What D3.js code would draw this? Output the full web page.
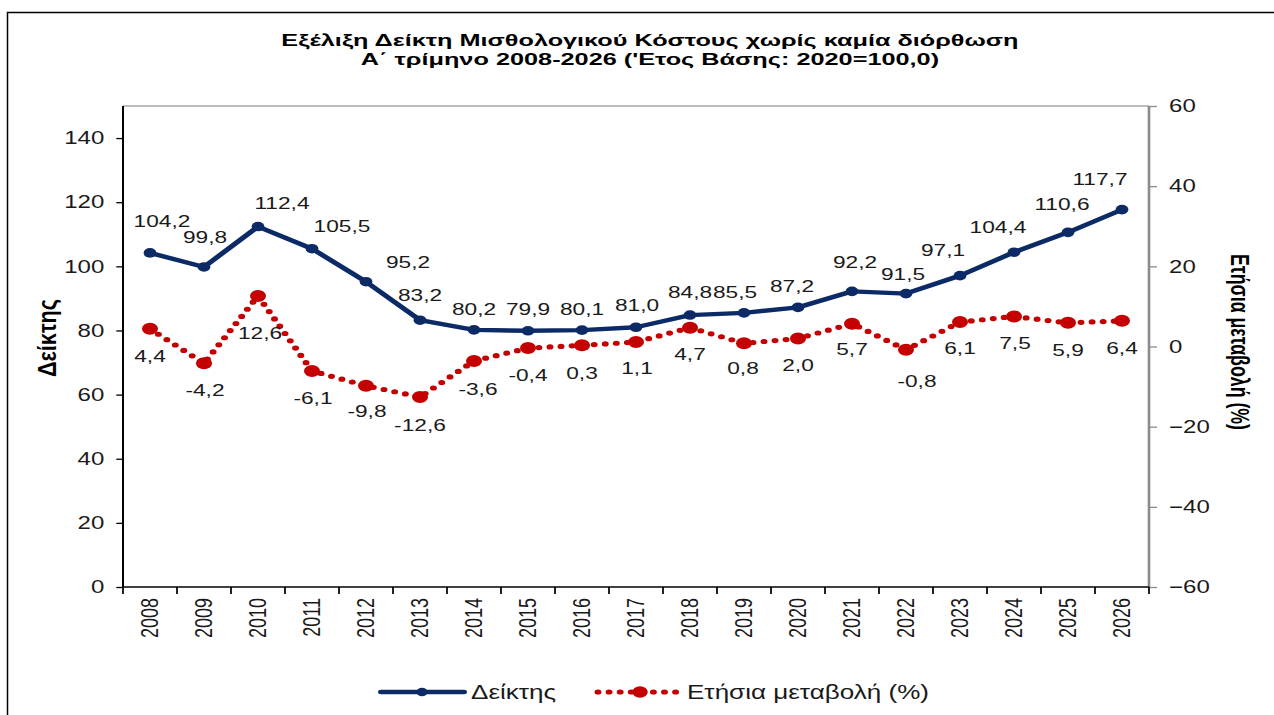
<!DOCTYPE html>
<html><head><meta charset="utf-8">
<script src="https://cdn.jsdelivr.net/npm/d3@7"></script>
<style>
html,body{margin:0;padding:0;background:#fff;}
svg{display:block;font-family:"Liberation Sans",Arial,sans-serif;}
</style></head>
<body><svg id="c" width="1274" height="715"></svg>
<script>
// ---- data ----
const years = ["2008","2009","2010","2011","2012","2013","2014","2015","2016","2017","2018","2019","2020","2021","2022","2023","2024","2025","2026"];
const indexValues = [104.2,99.8,112.4,105.5,95.2,83.2,80.2,79.9,80.1,81.0,84.8,85.5,87.2,92.2,91.5,97.1,104.4,110.6,117.7];
const changeValues = [4.4,-4.2,12.6,-6.1,-9.8,-12.6,-3.6,-0.4,0.3,1.1,4.7,0.8,2.0,5.7,-0.8,6.1,7.5,5.9,6.4];
const leftTicks = [0,20,40,60,80,100,120,140];
const rightTicks = [-60,-40,-20,0,20,40,60];
const titleLines = ["Εξέλιξη Δείκτη Μισθολογικού Κόστους χωρίς καμία διόρθωση","Α΄ τρίμηνο 2008-2026 ('Ετος Βάσης: 2020=100,0)"];
const seriesNames = ["Δείκτης","Ετήσια μεταβολή (%)"];
// label placement offsets (px) relative to points
const idxLabelDx = [12,1,24,30,42,0,0,0,0,1,0,-9,-6,3,-3,-17,-16,-6,-22];
const idxLabelDy = [-32,-30,-24,-23,-20,-25,-21,-22,-21,-22,-23,-21,-21,-29,-20,-26,-25,-28,-31];
const chgLabelDx = [0,1,2,1,1,0,4,0,0,1,0,-1,0,0,11,0,1,0,0];
const chgLabelDy = [27,27,37,27,25,28,28,27,28,26,26,25,27,25,31,26,27,27,27];

const fmt = v => v.toFixed(1).replace(".", ",");
const S = 1274/954; // horizontal stretch of the original picture
const svg = d3.select("#c");

// outer frame
svg.append("rect").attr("x",7.5).attr("y",12.5).attr("width",1300).attr("height",800)
  .attr("fill","none").attr("stroke","#000").attr("stroke-width",1.5);

const g = svg.append("g").attr("transform",`scale(${S},1)`);

const L = 123/S, R = 1149/S, T = 106, B = 587;
const x = d3.scaleBand().domain(years).range([L,R]).padding(0);
const cx = d => x(d) + x.bandwidth()/2;
const yL = d3.scaleLinear().domain([0,150]).range([B,T]);
const yR = d3.scaleLinear().domain([-60,60]).range([B,T]);

const navy = "#0b2a66", red = "#c40000", txt = "#1a1a1a";

// title
titleLines.forEach((t,i)=>{
  g.append("text").attr("x",486.7).attr("y",46+i*19.5).attr("text-anchor","middle")
   .attr("font-size",17).attr("font-weight","bold").attr("fill","#000")
   .attr("textLength", i===0?552:433).attr("lengthAdjust","spacingAndGlyphs").text(t);
});

// top gray border
g.append("line").attr("x1",L).attr("x2",R).attr("y1",T).attr("y2",T).attr("stroke","#a6a6a6").attr("stroke-width",1.5);

// left axis
const ax = g.append("g").attr("transform",`translate(${L},0)`)
  .call(d3.axisLeft(yL).tickValues(leftTicks).tickSize(5).tickPadding(9).tickFormat(d3.format("d")));
ax.select(".domain").attr("stroke","#000").attr("stroke-width",1.5).attr("d",`M-0,${T}V${B}`);
ax.selectAll(".tick line").attr("stroke","#000").attr("stroke-width",1.3);
ax.selectAll(".tick text").attr("font-size",18).attr("fill",txt).attr("font-family","Liberation Sans, Arial");

// right axis
const ar = g.append("g").attr("transform",`translate(${R},0)`)
  .call(d3.axisRight(yR).tickValues(rightTicks).tickSize(6).tickPadding(9).tickFormat(d3.format("d")));
ar.select(".domain").attr("stroke","#8c8c8c").attr("stroke-width",2).attr("d",`M0,${T}V${B}`);
ar.selectAll(".tick line").attr("stroke","#8c8c8c").attr("stroke-width",1.3);
ar.selectAll(".tick text").attr("font-size",18).attr("fill",txt).attr("font-family","Liberation Sans, Arial");

// bottom axis
const ab = g.append("g").attr("transform",`translate(0,${B})`)
  .call(d3.axisBottom(x).tickSize(0).tickFormat(d=>""));
ab.select(".domain").attr("stroke","#000").attr("stroke-width",1.5).attr("d",`M${L},0H${R}`);
const bounds = years.map(d=>x(d)).concat([R]);
g.selectAll(".xb").data(bounds).enter().append("line")
  .attr("x1",d=>d).attr("x2",d=>d).attr("y1",B).attr("y2",B+7).attr("stroke","#000").attr("stroke-width",1.3);
g.selectAll(".xl").data(years).enter().append("text")
  .attr("transform",d=>`translate(${cx(d)},${B+11}) rotate(-90)`)
  .attr("text-anchor","end").attr("dy","0.35em").attr("font-size",18).attr("fill",txt).text(d=>d);

// axis titles
g.append("text").attr("transform",`translate(${47/S},338) rotate(-90)`).attr("text-anchor","middle")
  .attr("dy","0.35em").attr("font-size",20).attr("font-weight","bold").attr("fill","#000")
  .attr("textLength",78).attr("lengthAdjust","spacingAndGlyphs").text(seriesNames[0]);
g.append("text").attr("transform",`translate(${1240/S},342) rotate(90)`).attr("text-anchor","middle")
  .attr("dy","0.35em").attr("font-size",19).attr("font-weight","bold").attr("fill","#000")
  .attr("textLength",176).attr("lengthAdjust","spacingAndGlyphs").text(seriesNames[1]);

// red dotted series
const lineR = d3.line().x((d,i)=>cx(years[i])).y(d=>yR(d));
g.append("path").attr("d",lineR(changeValues)).attr("fill","none").attr("stroke",red)
  .attr("stroke-width",5.2).attr("stroke-linecap","round").attr("stroke-dasharray","0 8.3");
g.selectAll(".rm").data(changeValues).enter().append("circle")
  .attr("cx",(d,i)=>cx(years[i])).attr("cy",d=>yR(d)).attr("r",6).attr("fill",red);

// blue index series
const lineL = d3.line().x((d,i)=>cx(years[i])).y(d=>yL(d));
g.append("path").attr("d",lineL(indexValues)).attr("fill","none").attr("stroke",navy)
  .attr("stroke-width",4.4).attr("stroke-linejoin","round");
g.selectAll(".bm").data(indexValues).enter().append("circle")
  .attr("cx",(d,i)=>cx(years[i])).attr("cy",d=>yL(d)).attr("r",4.8).attr("fill",navy);

// data labels
g.selectAll(".il").data(indexValues).enter().append("text")
  .attr("x",(d,i)=>cx(years[i])+idxLabelDx[i]/S).attr("y",(d,i)=>yL(d)+idxLabelDy[i])
  .attr("text-anchor","middle").attr("dy","0.35em").attr("font-size",17).attr("fill",txt).text(fmt);
g.selectAll(".cl").data(changeValues).enter().append("text")
  .attr("x",(d,i)=>cx(years[i])+chgLabelDx[i]/S).attr("y",(d,i)=>yR(d)+chgLabelDy[i])
  .attr("text-anchor","middle").attr("dy","0.35em").attr("font-size",17).attr("fill",txt).text(fmt);

// legend
const ly = 692;
g.append("line").attr("x1",381/S).attr("x2",464/S).attr("y1",ly).attr("y2",ly).attr("stroke",navy).attr("stroke-width",4.4).attr("stroke-linecap","round");
g.append("circle").attr("cx",422/S).attr("cy",ly).attr("r",4.2).attr("fill",navy);
g.append("text").attr("x",471/S).attr("y",ly).attr("dy","0.35em").attr("font-size",19.5).attr("fill",txt).text(seriesNames[0]);
g.append("line").attr("x1",598/S).attr("x2",677/S).attr("y1",ly).attr("y2",ly).attr("stroke",red).attr("stroke-width",5.2).attr("stroke-linecap","round").attr("stroke-dasharray","0 8.3");
g.append("circle").attr("cx",640/S).attr("cy",ly).attr("r",5.8).attr("fill",red);
g.append("text").attr("x",687/S).attr("y",ly).attr("dy","0.35em").attr("font-size",19.5).attr("fill",txt).text(seriesNames[1]);
</script></body></html>
